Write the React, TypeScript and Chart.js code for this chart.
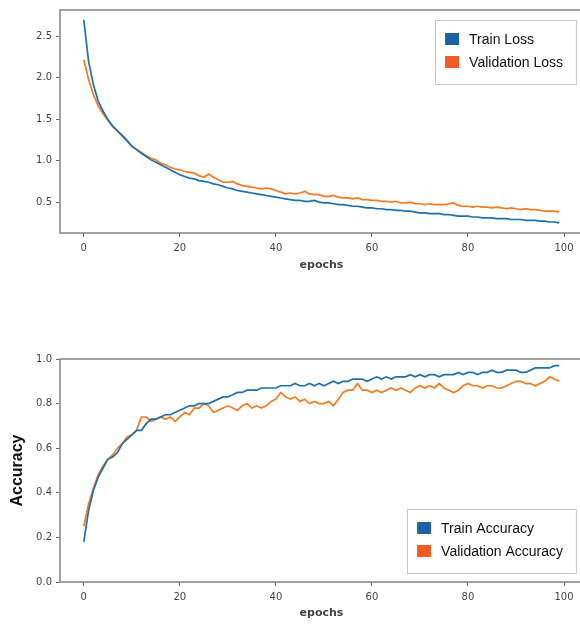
import React, { useEffect, useRef } from "react";
import { Chart, registerables } from "chart.js";

Chart.register(...registerables);

// ---------- data ----------
const epochs: number[] = Array.from({ length: 100 }, (_, i) => i);

const trainLoss: number[] = [
  2.70, 2.20, 1.92, 1.72, 1.60, 1.50, 1.42, 1.36, 1.30, 1.24,
  1.18, 1.13, 1.09, 1.05, 1.01, 0.98, 0.95, 0.92, 0.89, 0.86,
  0.83, 0.81, 0.79, 0.78, 0.76, 0.75, 0.74, 0.72, 0.71, 0.69,
  0.67, 0.66, 0.64, 0.63, 0.62, 0.61, 0.60, 0.59, 0.58, 0.57,
  0.56, 0.55, 0.54, 0.53, 0.52, 0.52, 0.51, 0.51, 0.52, 0.50,
  0.49, 0.49, 0.48, 0.47, 0.47, 0.46, 0.45, 0.45, 0.44, 0.43,
  0.43, 0.42, 0.42, 0.41, 0.41, 0.40, 0.40, 0.39, 0.39, 0.38,
  0.37, 0.37, 0.36, 0.36, 0.36, 0.35, 0.35, 0.34, 0.33, 0.33,
  0.33, 0.32, 0.32, 0.31, 0.31, 0.31, 0.30, 0.30, 0.30, 0.29,
  0.29, 0.29, 0.28, 0.28, 0.28, 0.27, 0.27, 0.26, 0.26, 0.25,
];

const valLoss: number[] = [
  2.22, 1.98, 1.80, 1.66, 1.57, 1.49, 1.41, 1.36, 1.31, 1.25,
  1.17, 1.14, 1.10, 1.06, 1.03, 1.01, 0.97, 0.95, 0.92, 0.90,
  0.89, 0.87, 0.86, 0.85, 0.82, 0.80, 0.84, 0.80, 0.77, 0.74,
  0.74, 0.75, 0.72, 0.70, 0.69, 0.68, 0.67, 0.66, 0.67, 0.66,
  0.64, 0.62, 0.60, 0.61, 0.60, 0.61, 0.63, 0.60, 0.59, 0.59,
  0.57, 0.57, 0.58, 0.56, 0.55, 0.55, 0.54, 0.55, 0.53, 0.53,
  0.52, 0.52, 0.51, 0.51, 0.50, 0.51, 0.49, 0.49, 0.50, 0.48,
  0.48, 0.47, 0.48, 0.47, 0.47, 0.47, 0.48, 0.49, 0.46, 0.45,
  0.45, 0.44, 0.45, 0.44, 0.44, 0.43, 0.44, 0.43, 0.42, 0.43,
  0.42, 0.41, 0.42, 0.41, 0.41, 0.40, 0.39, 0.39, 0.39, 0.38,
];

const trainAcc: number[] = [
  0.18, 0.32, 0.41, 0.47, 0.51, 0.55, 0.56, 0.58, 0.62, 0.64,
  0.66, 0.68, 0.68, 0.71, 0.73, 0.73, 0.74, 0.75, 0.75, 0.76,
  0.77, 0.78, 0.79, 0.79, 0.80, 0.80, 0.80, 0.81, 0.82, 0.83,
  0.83, 0.84, 0.85, 0.85, 0.86, 0.86, 0.86, 0.87, 0.87, 0.87,
  0.87, 0.88, 0.88, 0.88, 0.89, 0.88, 0.88, 0.89, 0.88, 0.89,
  0.88, 0.89, 0.90, 0.89, 0.90, 0.90, 0.91, 0.91, 0.91, 0.90,
  0.91, 0.92, 0.91, 0.92, 0.91, 0.92, 0.92, 0.92, 0.93, 0.92,
  0.93, 0.92, 0.93, 0.93, 0.92, 0.93, 0.93, 0.93, 0.94, 0.93,
  0.94, 0.94, 0.93, 0.94, 0.94, 0.95, 0.94, 0.94, 0.95, 0.95,
  0.95, 0.94, 0.94, 0.95, 0.96, 0.96, 0.96, 0.96, 0.97, 0.97,
];

const valAcc: number[] = [
  0.25, 0.35, 0.42, 0.48, 0.52, 0.55, 0.57, 0.60, 0.62, 0.65,
  0.66, 0.68, 0.74, 0.74, 0.72, 0.73, 0.74, 0.73, 0.74, 0.72,
  0.74, 0.76, 0.75, 0.78, 0.78, 0.80, 0.79, 0.76, 0.77, 0.78,
  0.79, 0.78, 0.77, 0.79, 0.80, 0.78, 0.79, 0.78, 0.79, 0.81,
  0.82, 0.85, 0.83, 0.82, 0.83, 0.81, 0.82, 0.80, 0.81, 0.80,
  0.80, 0.81, 0.79, 0.82, 0.85, 0.86, 0.86, 0.89, 0.86, 0.86,
  0.85, 0.86, 0.85, 0.86, 0.87, 0.86, 0.87, 0.86, 0.85, 0.87,
  0.88, 0.87, 0.88, 0.87, 0.89, 0.87, 0.86, 0.85, 0.86, 0.88,
  0.89, 0.88, 0.88, 0.87, 0.88, 0.88, 0.87, 0.87, 0.88, 0.89,
  0.90, 0.90, 0.89, 0.89, 0.88, 0.89, 0.90, 0.92, 0.91, 0.90,
];

const xTicks: number[] = [0, 20, 40, 60, 80, 100];
const lossTicks: number[] = [0.5, 1.0, 1.5, 2.0, 2.5];
const accTicks: number[] = [0.0, 0.2, 0.4, 0.6, 0.8, 1.0];

const TRAIN_LINE = "#1f6fae";
const VAL_LINE = "#f57a20";
const TRAIN_SWATCH = "#1f5fa5";
const VAL_SWATCH = "#f05a24";

type LegendItem = { label: string; color: string };

type PanelProps = {
  top: number;
  height: number;
  padTop: number;
  xAxisH: number;
  xTitlePad: number;
  train: number[];
  val: number[];
  trainLabel: string;
  valLabel: string;
  yMin: number;
  yMax: number;
  yTicks: number[];
  yTitle?: string;
  legendAnchor: "upper" | "lower";
};

function Panel(p: PanelProps) {
  const ref = useRef<HTMLCanvasElement | null>(null);

  useEffect(() => {
    const canvas = ref.current;
    if (!canvas) return;

    const legendItems: LegendItem[] = [
      { label: p.trainLabel, color: TRAIN_SWATCH },
      { label: p.valLabel, color: VAL_SWATCH },
    ];

    const framePlugin = {
      id: "frame",
      afterDraw(chart: any) {
        const { ctx, chartArea } = chart;
        ctx.save();
        ctx.strokeStyle = "#8a8a8a";
        ctx.lineWidth = 1.6;
        ctx.strokeRect(
          chartArea.left,
          chartArea.top,
          chartArea.right - chartArea.left,
          chartArea.bottom - chartArea.top
        );
        ctx.restore();
      },
    };

    const legendPlugin = {
      id: "boxLegend",
      afterDraw(chart: any) {
        const { ctx, chartArea } = chart;
        ctx.save();
        ctx.font = '14px "Liberation Sans", Arial, sans-serif';
        const tw = Math.max(...legendItems.map((it) => ctx.measureText(it.label).width));
        const w = 10 + 14 + 12 + tw + 11;
        const h = 64;
        const right = chartArea.right - 7;
        const left = right - w;
        const top =
          p.legendAnchor === "upper" ? chartArea.top + 10 : chartArea.bottom - 9 - h;
        ctx.fillStyle = "rgba(255,255,255,0.9)";
        ctx.fillRect(left, top, w, h);
        ctx.strokeStyle = "#c8c8c8";
        ctx.lineWidth = 1;
        ctx.strokeRect(Math.round(left) + 0.5, Math.round(top) + 0.5, w, h);
        legendItems.forEach((it, i) => {
          const cy = top + 19 + i * 23;
          ctx.fillStyle = it.color;
          ctx.fillRect(left + 10, cy - 6, 14, 12);
          ctx.fillStyle = "#111";
          ctx.textBaseline = "middle";
          ctx.textAlign = "left";
          ctx.fillText(it.label, left + 34, cy + 1);
        });
        ctx.restore();
      },
    };

    const tickFont = { family: '"DejaVu Sans", sans-serif', size: 10 };

    const chart = new Chart(canvas, {
      type: "line",
      data: {
        datasets: [
          {
            label: p.trainLabel,
            data: epochs.map((e, i) => ({ x: e, y: p.train[i] })),
            borderColor: TRAIN_LINE,
            backgroundColor: TRAIN_LINE,
            borderWidth: 1.7,
            pointRadius: 0,
            tension: 0,
          },
          {
            label: p.valLabel,
            data: epochs.map((e, i) => ({ x: e, y: p.val[i] })),
            borderColor: VAL_LINE,
            backgroundColor: VAL_LINE,
            borderWidth: 1.7,
            pointRadius: 0,
            tension: 0,
          },
        ],
      },
      options: {
        animation: false,
        responsive: false,
        devicePixelRatio: 1,
        layout: { padding: { left: 0, right: 1, top: p.padTop, bottom: 0 } },
        plugins: {
          legend: { display: false },
          tooltip: { enabled: false },
        },
        scales: {
          x: {
            type: "linear",
            min: -4.95,
            max: 103.95,
            afterBuildTicks: (s: any) => {
              s.ticks = xTicks.map((v) => ({ value: v }));
            },
            afterFit: (s: any) => {
              s.height = p.xAxisH;
            },
            ticks: {
              font: tickFont,
              color: "#444",
              padding: 5,
              maxRotation: 0,
              autoSkip: false,
              callback: (v: any) => String(v),
            },
            grid: {
              drawOnChartArea: false,
              drawTicks: true,
              tickLength: 4,
              color: "#666",
            },
            border: { display: false },
            title: {
              display: true,
              text: "epochs",
              color: "#444",
              font: { family: '"DejaVu Sans", sans-serif', size: 11, weight: "bold" },
              padding: { top: 0, bottom: p.xTitlePad },
            },
          },
          y: {
            type: "linear",
            min: p.yMin,
            max: p.yMax,
            afterBuildTicks: (s: any) => {
              s.ticks = p.yTicks.map((v) => ({ value: v }));
            },
            afterFit: (s: any) => {
              s.width = 60;
            },
            ticks: {
              font: tickFont,
              color: "#444",
              padding: 4,
              autoSkip: false,
              callback: (v: any) => Number(v).toFixed(1),
            },
            grid: {
              drawOnChartArea: false,
              drawTicks: true,
              tickLength: 4,
              color: "#666",
            },
            border: { display: false },
            title: p.yTitle
              ? {
                  display: true,
                  text: p.yTitle,
                  color: "#111",
                  font: { family: '"Liberation Sans", Arial, sans-serif', size: 16, weight: "bold" },
                  padding: { top: 8, bottom: 0 },
                }
              : { display: false },
          },
        },
      } as any,
      plugins: [framePlugin, legendPlugin],
    });

    return () => chart.destroy();
  }, []);

  return (
    <canvas
      ref={ref}
      width={584}
      height={p.height}
      style={{ position: "absolute", left: 0, top: p.top, width: 584, height: p.height }}
    />
  );
}

export default function App() {
  return (
    <div
      style={{
        position: "fixed",
        left: 0,
        top: 0,
        width: 580,
        height: 624,
        overflow: "hidden",
        background: "#fff",
      }}
    >
      <Panel
        top={0}
        height={290}
        padTop={10}
        xAxisH={57}
        xTitlePad={18.4}
        train={trainLoss}
        val={valLoss}
        trainLabel="Train Loss"
        valLabel="Validation Loss"
        yMin={0.127}
        yMax={2.82}
        yTicks={lossTicks}
        legendAnchor="upper"
      />
      <Panel
        top={330}
        height={294}
        padTop={29}
        xAxisH={42}
        xTitlePad={4.4}
        train={trainAcc}
        val={valAcc}
        trainLabel="Train Accuracy"
        valLabel="Validation Accuracy"
        yMin={0}
        yMax={1.0}
        yTicks={accTicks}
        yTitle="Accuracy"
        legendAnchor="lower"
      />
    </div>
  );
}
